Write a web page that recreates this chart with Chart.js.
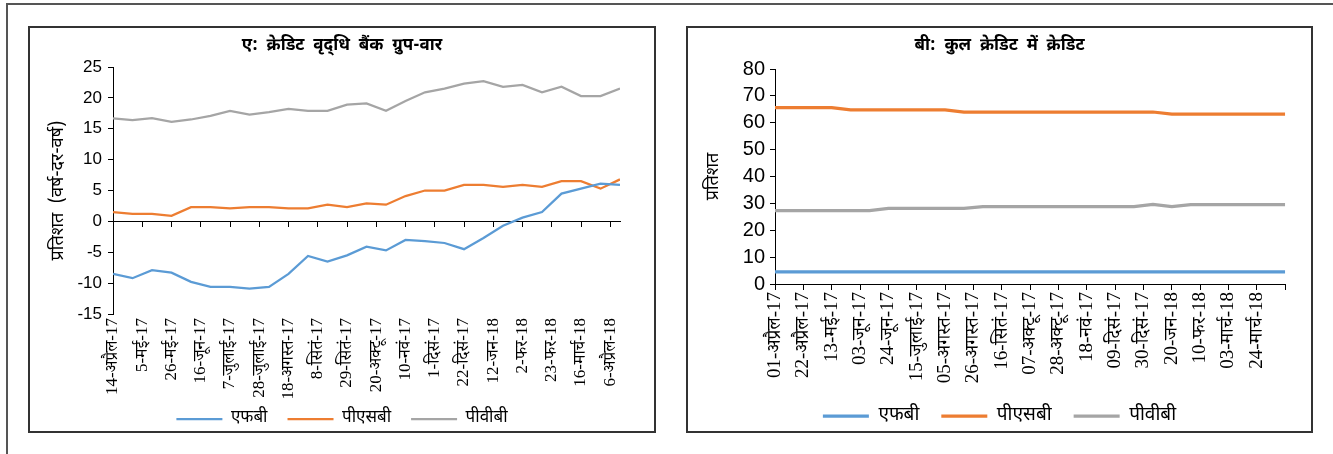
<!DOCTYPE html>
<html>
<head>
<meta charset="utf-8">
<script src="https://cdn.jsdelivr.net/npm/chart.js@4/dist/chart.umd.min.js"></script>
<style>
  html, body { margin: 0; padding: 0; background: #fff; width: 1333px; height: 454px; overflow: hidden; }
  .frame { position: absolute; left: 6px; top: 3px; width: 1400px; height: 500px;
           border-top: 2px solid #555; border-left: 2px solid #555; }
  .panel { position: absolute; top: 26px; height: 403px; border: 2px solid #333; background: #fff; overflow: hidden; }
  #panelA { left: 28px; width: 624px; }
  #panelB { left: 686px; width: 623px; }
  canvas { display: block; }
</style>
</head>
<body>
<div class="frame"></div>
<div class="panel" id="panelA"><canvas id="chartA" width="624" height="403"></canvas></div>
<div class="panel" id="panelB"><canvas id="chartB" width="623" height="403"></canvas></div>

<script>
// Panel A: year-on-year credit growth by bank group (fortnightly, per cent)
const growthTickLabels = ['14-अप्रैल-17', '5-मई-17', '26-मई-17', '16-जून-17', '7-जुलाई-17', '28-जुलाई-17',
  '18-अगस्त-17', '8-सितं-17', '29-सितं-17', '20-अक्टू-17', '10-नवं-17', '1-दिसं-17', '22-दिसं-17',
  '12-जन-18', '2-फर-18', '23-फर-18', '16-मार्च-18', '6-अप्रैल-18'];
const fbGrowth  = [-8.5, -9.2, -7.9, -8.3, -9.8, -10.6, -10.6, -10.9, -10.6, -8.5, -5.6, -6.5, -5.5, -4.1,
  -4.7, -3.0, -3.2, -3.5, -4.5, -2.7, -0.7, 0.6, 1.5, 4.5, 5.3, 6.1, 5.9];
const psbGrowth = [1.5, 1.2, 1.2, 0.9, 2.3, 2.3, 2.1, 2.3, 2.3, 2.1, 2.1, 2.7, 2.3, 2.9, 2.7, 4.1, 5.0, 5.0,
  5.9, 5.9, 5.6, 5.9, 5.6, 6.5, 6.5, 5.3, 6.8];
const pvbGrowth = [16.7, 16.4, 16.7, 16.1, 16.5, 17.1, 17.9, 17.3, 17.7, 18.2, 17.9, 17.9, 18.9, 19.1, 17.9,
  19.5, 20.9, 21.5, 22.3, 22.7, 21.8, 22.1, 20.9, 21.8, 20.3, 20.3, 21.5];

// Panel B: share in total credit (fortnightly, per cent)
const shareTickLabels = ['01-अप्रैल-17', '22-अप्रैल-17', '13-मई-17', '03-जून-17', '24-जून-17', '15-जुलाई-17',
  '05-अगस्त-17', '26-अगस्त-17', '16-सितं-17', '07-अक्टू-17', '28-अक्टू-17', '18-नवं-17', '09-दिसं-17',
  '30-दिसं-17', '20-जन-18', '10-फर-18', '03-मार्च-18', '24-मार्च-18'];
const fbShare  = [4.5, 4.5, 4.5, 4.5, 4.5, 4.5, 4.5, 4.5, 4.5, 4.5, 4.5, 4.5, 4.5, 4.5,
  4.5, 4.5, 4.5, 4.5, 4.5, 4.5, 4.5, 4.5, 4.5, 4.5, 4.5, 4.5, 4.5, 4.5];
const psbShare = [65.6, 65.6, 65.6, 65.6, 64.8, 64.8, 64.8, 64.8, 64.8, 64.8, 64.0, 64.0, 64.0, 64.0,
  64.0, 64.0, 64.0, 64.0, 64.0, 64.0, 64.0, 63.2, 63.2, 63.2, 63.2, 63.2, 63.2, 63.2];
const pvbShare = [27.3, 27.3, 27.3, 27.3, 27.3, 27.3, 28.1, 28.1, 28.1, 28.1, 28.1, 28.8, 28.8, 28.8,
  28.8, 28.8, 28.8, 28.8, 28.8, 28.8, 29.6, 28.8, 29.5, 29.5, 29.5, 29.5, 29.5, 29.5];

const seriesNames = ['एफबी', 'पीएसबी', 'पीवीबी'];
const seriesColors = ['#5B9BD5', '#ED7D31', '#A5A5A5'];

const DEVA = "'Noto Sans Devanagari', 'Lohit Devanagari', 'Noto Sans', sans-serif";
const NUM = "'Liberation Sans Narrow', 'Arial Narrow', 'Liberation Sans', sans-serif";
const DATE = "'Liberation Serif', 'Noto Serif Devanagari', 'Noto Sans Devanagari', serif";

// observations are two weeks apart; the x axis counts weeks, labelled every third week
const toPoints = vals => vals.map((v, i) => ({ x: i * 2, y: v }));

function buildChart(canvasId, cfg) {
  const datasets = cfg.series.map((vals, k) => ({
    label: seriesNames[k],
    data: toPoints(vals),
    borderColor: seriesColors[k],
    backgroundColor: seriesColors[k],
    borderWidth: cfg.lineWidth,
    pointRadius: 0,
    tension: 0,
    xAxisID: 'x', yAxisID: 'y'
  }));
  const axisGrid = { drawOnChartArea: false, drawTicks: true, tickLength: 5, color: '#000', lineWidth: 1 };
  const scales = {
    // date axis: pinned to a y value so its rotated labels hang below the plot without being clipped
    x: {
      type: 'linear', axis: 'x', position: { y: cfg.labelAt }, min: 0, max: cfg.xMax,
      border: { display: cfg.xBorder, color: '#000', width: 1 },
      grid: cfg.xBorder ? axisGrid : { display: false, drawTicks: false },
      ticks: {
        stepSize: 3, autoSkip: false, includeBounds: false, minRotation: 90, maxRotation: 90,
        padding: cfg.xPad, color: '#000', font: { family: DATE, size: cfg.dateSize },
        callback: v => cfg.labels[v / 3] || ''
      }
    },
    // room under the plot for the date labels
    xRoom: {
      type: 'linear', axis: 'x', position: 'bottom',
      afterFit: s => { s.height = cfg.xHeight; },
      border: { display: false }, grid: { display: false, drawTicks: false }, ticks: { display: false }
    },
    y: {
      position: 'left', min: cfg.yMin, max: cfg.yMax,
      afterFit: s => { s.width = cfg.yWidth; },
      border: { display: true, color: '#000', width: 1 },
      grid: axisGrid,
      ticks: { stepSize: cfg.yStep, autoSkip: false, padding: cfg.yPad, color: '#000',
               font: { family: NUM, size: cfg.numSize } },
      title: { display: true, text: cfg.yTitle, color: '#000', padding: { top: cfg.yTitlePad, bottom: 0 },
               font: { family: DEVA, size: 18 } }
    },
    gutter: {
      type: 'linear', axis: 'y', position: 'right',
      afterFit: s => { s.width = cfg.rightGap; },
      border: { display: false }, grid: { display: false, drawTicks: false }, ticks: { display: false }
    }
  };
  if (cfg.zeroAxis) {
    // horizontal axis line with tick marks running through y = 0
    scales.xZero = {
      type: 'linear', axis: 'x', position: { y: 0 }, min: 0, max: cfg.xMax,
      border: { display: true, color: '#000', width: 1 },
      grid: axisGrid,
      ticks: { display: false, stepSize: 3, includeBounds: false }
    };
  }
  return new Chart(document.getElementById(canvasId), {
    type: 'line',
    data: { datasets },
    options: {
      responsive: false, animation: false, devicePixelRatio: 1,
      layout: { padding: { top: 0, left: 0, right: 0, bottom: cfg.bottomPad } },
      plugins: {
        title: { display: true, text: cfg.title, color: '#000',
                 font: { family: DEVA, size: 17, weight: 'bold' },
                 padding: { top: 8.8, bottom: cfg.titleGap } },
        legend: { position: 'bottom',
                  labels: { usePointStyle: true, pointStyle: 'line', pointStyleWidth: 46, boxHeight: cfg.legendSize,
                            padding: cfg.legendPad, color: '#000', font: { family: DEVA, size: cfg.legendSize } } },
        tooltip: { enabled: false }
      },
      scales
    }
  });
}

buildChart('chartA', {
  title: 'ए:  क्रेडिट  वृद्\u200Cधि  बैंक  ग्रुप-वार',
  series: [fbGrowth, psbGrowth, pvbGrowth], labels: growthTickLabels,
  xMax: 52, yMin: -15, yMax: 25, yStep: 5, yTitle: 'प्रतिशत  (वर्ष-दर-वर्ष)', labelAt: -15,
  lineWidth: 2.25, zeroAxis: true, xBorder: false, xPad: 4, dateSize: 17, numSize: 17, yPad: 6,
  legendSize: 17, legendPad: 20,
  xHeight: 76.5, yWidth: 83, rightGap: 34, yTitlePad: 19.2, titleGap: 9.8, bottomPad: -6.5
});

buildChart('chartB', {
  title: 'बी:  कुल  क्रेडिट  में  क्रेडिट',
  series: [fbShare, psbShare, pvbShare], labels: shareTickLabels,
  xMax: 54, yMin: 0, yMax: 80, yStep: 10, yTitle: 'प्रतिशत', labelAt: 0,
  lineWidth: 3.25, zeroAxis: false, xBorder: true, xPad: 3, dateSize: 19, numSize: 20, yPad: 5,
  legendSize: 19, legendPad: 22,
  xHeight: 100.5, yWidth: 87, rightGap: 24, yTitlePad: 16.2, titleGap: 11.8, bottomPad: -4.5
});
</script>
</body>
</html>
